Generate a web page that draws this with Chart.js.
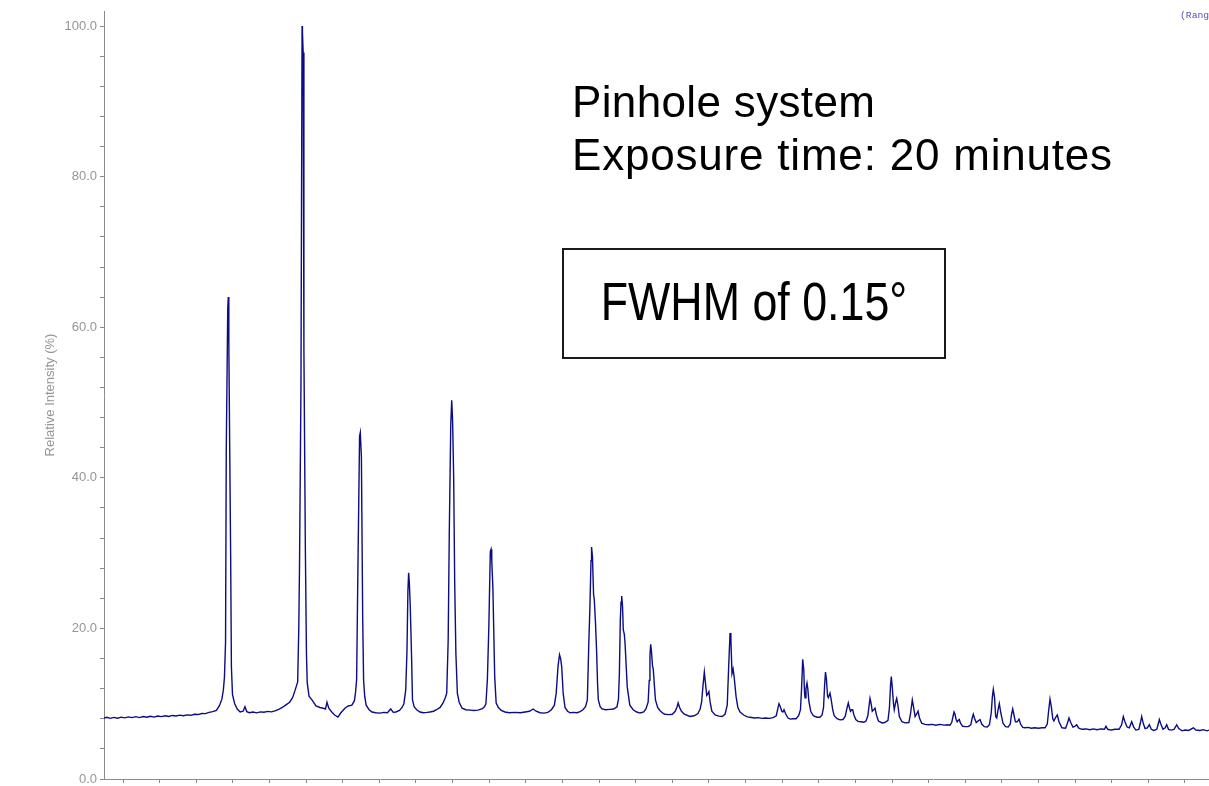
<!DOCTYPE html>
<html>
<head>
<meta charset="utf-8">
<script src="https://cdn.jsdelivr.net/npm/chart.js"></script>
<style>
  html, body { margin: 0; padding: 0; background: #fff; overflow: hidden; }
  #wrap { position: relative; width: 1209px; height: 786px; }
  .note { position: absolute; font-family: "Liberation Sans", Arial, sans-serif; color: #000; white-space: nowrap; }
  #line1 { left: 572px; top: 75px; font-size: 44px; line-height: 53px; letter-spacing: 0.35px; }
  #line2 { left: 572px; top: 128px; font-size: 44px; line-height: 53px; letter-spacing: 0.8px; }
  #box { position: absolute; left: 562px; top: 248px; width: 384px; height: 111px; box-sizing: border-box; border: 2px solid #1a1a1a; }
  #fwhm { left: 0; width: 380px; top: 20px; text-align: center; font-size: 53px; line-height: 64px; transform: scaleX(0.845); }
  #range { position: absolute; left: 1180px; top: 10px; font-family: "Liberation Mono", monospace; font-size: 9.7px; color: #5050b0; white-space: nowrap; }
</style>
</head>
<body>
<div id="wrap">
  <canvas id="myChart" width="1209" height="786"></canvas>
  <div class="note" id="line1">Pinhole system</div>
  <div class="note" id="line2">Exposure time: 20 minutes</div>
  <div id="box"><div class="note" id="fwhm">FWHM of 0.15°</div></div>
  <div id="range">(Range 1)</div>
</div>
<script>
var twoTheta = [
  4.48,4.56,4.65,4.75,4.85,4.95,5.05,5.15,5.25,5.35,5.45,5.55,5.65,5.75,5.85,5.95,6.05,6.15,6.25,6.35,
  6.45,6.55,6.65,6.75,6.85,6.95,7.05,7.15,7.25,7.35,7.45,7.55,7.63,7.70,7.74,7.77,7.80,7.82,7.86,7.875,
  7.89,7.90,7.94,7.96,7.99,8.05,8.12,8.20,8.28,8.33,8.38,8.45,8.55,8.65,8.75,8.85,8.95,9.05,9.15,9.25,
  9.35,9.45,9.55,9.63,9.70,9.77,9.80,9.82,9.86,9.89,9.90,9.92,9.94,9.98,10.01,10.03,10.08,10.16,10.27,10.38,
  10.47,10.53,10.57,10.62,10.70,10.78,10.87,10.95,11.06,11.15,11.25,11.32,11.35,11.38,11.41,11.46,11.48,11.51,11.545,11.57,
  11.60,11.64,11.72,11.80,11.90,12.02,12.12,12.22,12.31,12.38,12.45,12.55,12.62,12.67,12.72,12.755,12.78,12.80,12.82,12.845,
  12.88,12.905,12.95,13.02,13.11,13.20,13.30,13.38,13.48,13.56,13.66,13.74,13.80,13.84,13.88,13.91,13.95,13.976,14.00,14.03,
  14.058,14.09,14.13,14.18,14.26,14.36,14.48,14.58,14.69,14.80,14.87,14.91,14.95,14.99,15.03,15.05,15.07,15.10,15.15,15.19,
  15.25,15.33,15.43,15.55,15.70,15.85,15.98,16.10,16.20,16.28,16.39,16.50,16.60,16.70,16.78,16.83,16.88,16.92,16.95,16.98,
  17.02,17.07,17.14,17.21,17.30,17.40,17.48,17.56,17.63,17.68,17.72,17.75,17.78,17.795,17.82,17.85,17.87,17.90,17.935,17.96,
  17.98,18.03,18.08,18.18,18.30,18.40,18.49,18.53,18.555,18.58,18.60,18.618,18.64,18.662,18.69,18.71,18.77,18.84,18.93,19.03,
  19.12,19.22,19.28,19.34,19.37,19.39,19.41,19.43,19.46,19.48,19.51,19.54,19.60,19.66,19.75,19.80,19.90,20.00,20.08,20.13,
  20.16,20.20,20.25,20.33,20.48,20.60,20.70,20.76,20.80,20.84,20.875,20.90,20.94,20.97,21.00,21.03,21.08,21.17,21.27,21.36,
  21.44,21.50,21.54,21.577,21.60,21.63,21.66,21.69,21.74,21.79,21.85,21.95,22.05,22.12,22.25,22.35,22.45,22.55,22.65,22.75,
  22.84,22.88,22.914,22.95,22.99,23.02,23.05,23.10,23.16,23.22,23.30,23.38,23.45,23.50,23.53,23.561,23.59,23.61,23.624,23.65,
  23.678,23.70,23.73,23.78,23.85,23.95,24.03,24.09,24.13,24.16,24.183,24.21,24.24,24.26,24.306,24.34,24.38,24.42,24.50,24.58,
  24.66,24.72,24.77,24.806,24.84,24.866,24.90,24.926,24.96,25.01,25.07,25.15,25.23,25.29,25.34,25.37,25.399,25.43,25.46,25.50,
  25.536,25.58,25.63,25.73,25.80,25.89,25.93,25.96,25.98,26.01,26.04,26.062,26.10,26.128,26.16,26.20,26.27,26.36,26.46,26.50,
  26.554,26.59,26.63,26.67,26.71,26.75,26.81,26.90,27.00,27.10,27.20,27.31,27.42,27.52,27.58,27.63,27.67,27.693,27.72,27.75,
  27.78,27.81,27.837,27.87,27.93,28.00,28.08,28.15,28.19,28.219,28.25,28.30,28.35,28.403,28.45,28.52,28.60,28.66,28.71,28.74,
  28.766,28.80,28.83,28.86,28.90,28.93,28.97,29.03,29.10,29.17,29.23,29.26,29.296,29.33,29.37,29.42,29.467,29.51,29.57,29.63,
  29.72,29.80,29.90,30.00,30.10,30.18,30.24,30.28,30.314,30.35,30.39,30.42,30.47,30.513,30.56,30.64,30.74,30.79,30.833,30.88,
  30.94,30.99,31.043,31.10,31.19,31.30,31.40,31.50,31.60,31.70,31.80,31.843,31.89,31.98,32.09,32.20,32.27,32.316,32.36,32.42,
  32.48,32.545,32.60,32.66,32.74,32.78,32.818,32.86,32.91,32.97,33.026,33.08,33.15,33.23,33.27,33.299,33.34,33.40,33.46,33.501,
  33.55,33.62,33.70,33.774,33.83,33.92,34.00,34.10,34.228,34.30,34.41,34.50,34.60,34.66
];

var intensity = [
  8.10,8.20,8.05,8.18,8.08,8.22,8.12,8.25,8.15,8.28,8.16,8.30,8.20,8.33,8.22,8.36,8.28,8.40,8.30,8.44,
  8.36,8.48,8.40,8.52,8.46,8.60,8.56,8.70,8.68,8.85,8.95,9.10,9.70,10.6,11.8,13.5,18.1,43.7,62.5,64.0,
  58.0,51.7,29.5,14.9,11.2,10.0,9.3,8.9,9.0,9.6,8.95,8.80,8.90,8.78,8.92,8.86,8.98,8.92,9.05,9.25,
  9.50,9.85,10.2,10.8,11.8,12.9,20.0,28.2,52.6,100.0,99.2,96.5,57.0,30.4,16.5,12.8,11.0,10.5,9.7,9.5,
  9.4,9.3,10.2,9.4,8.9,8.5,8.23,8.8,9.4,9.7,9.8,10.4,11.5,13.2,26.0,45.5,46.0,42.8,21.5,13.1,
  11.0,9.8,9.2,8.9,8.8,8.75,8.85,8.80,9.30,8.85,8.90,9.10,9.50,10.0,11.8,17.1,25.0,27.4,26.0,22.8,
  16.2,10.5,9.6,9.2,8.9,8.8,8.85,8.9,9.0,9.2,9.5,10.1,10.8,11.4,18.5,32.7,47.0,50.3,47.7,40.0,
  26.0,16.7,11.4,10.2,9.4,9.2,9.15,9.1,9.15,9.3,9.6,10.0,13.2,20.2,30.2,30.5,29.0,25.5,13.6,10.1,
  9.5,9.1,8.9,8.8,8.85,8.8,8.9,9.0,9.3,9.0,8.8,8.75,8.85,9.2,9.8,11.4,15.0,16.5,16.0,14.9,
  11.4,9.5,9.0,8.8,8.85,8.8,8.95,9.2,9.6,10.5,18.0,22.8,29.0,30.8,29.5,24.5,23.8,21.0,16.7,12.5,
  10.5,9.6,9.3,9.2,9.25,9.3,9.6,10.6,14.0,21.1,23.5,24.3,23.0,19.8,19.2,18.0,12.2,9.8,9.2,8.9,
  8.76,8.9,9.3,10.2,13.1,16.5,17.9,17.0,15.0,14.6,12.5,10.5,9.5,9.1,8.7,8.6,8.55,8.6,9.0,9.6,
  10.1,9.5,9.0,8.6,8.3,8.4,8.7,9.3,10.2,12.5,14.2,13.0,11.1,11.3,11.6,10.3,9.0,8.5,8.35,8.3,
  8.6,9.8,15.0,19.4,18.5,14.0,14.6,13.5,11.0,9.5,8.9,8.5,8.25,8.2,8.1,8.15,8.05,8.1,8.05,8.15,
  8.4,9.3,10.0,9.6,9.0,8.9,9.2,8.6,8.1,7.95,8.0,8.0,8.4,9.2,12.0,15.9,14.5,11.5,10.8,12.0,
  12.75,12.0,10.3,9.0,8.4,8.2,8.2,8.5,9.5,12.5,14.2,13.2,11.0,10.8,11.4,10.5,9.2,8.4,8.0,7.85,
  7.9,8.3,9.4,10.1,9.4,9.0,9.2,9.2,8.5,7.9,7.65,7.6,7.55,7.7,8.4,9.6,10.7,10.0,9.0,9.2,
  9.4,8.4,7.7,7.44,7.5,7.8,9.5,12.5,13.6,12.0,10.0,9.2,10.2,10.7,9.8,8.3,7.6,7.45,7.5,8.5,
  10.5,9.5,8.3,8.6,9.0,8.1,7.4,7.25,7.2,7.25,7.15,7.25,7.15,7.2,7.15,7.5,8.4,8.9,8.6,7.9,
  7.6,7.8,7.9,7.4,7.0,6.95,6.95,7.2,8.1,8.6,8.1,7.5,7.7,7.9,7.3,6.95,6.9,7.2,8.8,10.9,
  11.9,10.8,8.3,8.1,9.3,10.0,8.8,7.4,6.95,6.9,7.3,8.5,9.3,8.5,7.6,7.6,7.95,7.3,6.85,6.8,
  6.85,6.75,6.8,6.75,6.8,6.8,7.3,9.2,10.6,9.6,8.0,7.7,8.2,8.5,7.6,6.8,6.75,7.4,8.1,7.5,
  6.9,7.0,7.2,6.75,6.6,6.65,6.55,6.65,6.55,6.65,6.6,7.0,6.6,6.5,6.6,6.6,7.2,8.3,7.6,6.9,
  6.8,7.6,6.9,6.5,6.6,7.4,8.3,7.4,6.7,6.8,7.2,6.6,6.45,6.6,7.3,7.9,7.3,6.6,6.8,7.2,
  6.6,6.5,6.6,7.2,6.7,6.4,6.5,6.45,6.8,6.5,6.45,6.55,6.4,6.5
];

var xTicks = [5,6,7,8,9,10,11,12,13,14,15,16,17,18,19,20,21,22,23,24,25,26,27,28,29,30,31,32,33,34];
var yTicks = [0,4,8,12,16,20,24,28,32,36,40,44,48,52,56,60,64,68,72,76,80,84,88,92,96,100];

var points = twoTheta.map(function (t, i) { return { x: t, y: intensity[i] }; });

var axisGrey = "#8a8a8a";
var labelGrey = "#959595";

new Chart("myChart", {
  type: "line",
  data: {
    datasets: [{
      data: points,
      borderColor: "#0c0c84",
      borderWidth: 1.4,
      pointRadius: 0,
      tension: 0,
      fill: false
    }]
  },
  options: {
    responsive: false,
    animation: false,
    layout: { padding: { left: 39, top: 11, right: 0, bottom: 0 } },
    plugins: { legend: { display: false }, tooltip: { enabled: false } },
    scales: {
      x: {
        type: "linear",
        min: 4.481,
        max: 34.656,
        afterBuildTicks: function (s) { s.ticks = xTicks.map(function (v) { return { value: v }; }); },
        afterFit: function (s) { s.height = 7; },
        ticks: { display: false },
        grid: { drawOnChartArea: false, drawTicks: true, tickLength: 4, color: axisGrey },
        border: { color: axisGrey, width: 1 }
      },
      y: {
        min: 0,
        max: 102,
        afterBuildTicks: function (s) { s.ticks = yTicks.map(function (v) { return { value: v }; }); },
        afterFit: function (s) { s.width = 65; s.paddingTop = 0; s.paddingBottom = 0; },
        ticks: {
          color: labelGrey,
          padding: 3,
          font: { family: "Liberation Sans", size: 13 },
          callback: function (v) { return v % 20 === 0 ? v.toFixed(1) : ""; }
        },
        grid: { drawOnChartArea: false, drawTicks: true, tickLength: 4, color: axisGrey },
        border: { color: axisGrey, width: 1 },
        title: {
          display: true,
          text: "Relative Intensity (%)",
          color: labelGrey,
          padding: 4,
          font: { family: "Liberation Sans", size: 13 }
        }
      }
    }
  }
});
</script>
</body>
</html>
